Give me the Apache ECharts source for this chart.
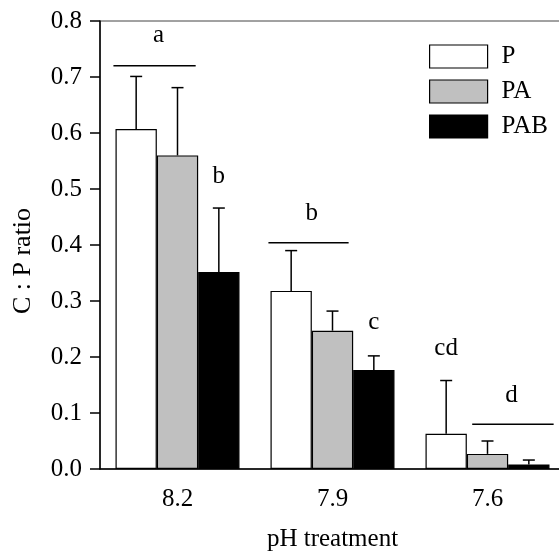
<!DOCTYPE html>
<html>
<head>
<meta charset="utf-8">
<script src="https://cdn.jsdelivr.net/npm/echarts@6/dist/echarts.min.js"></script>
<style>
html, body { margin: 0; padding: 0; background: #fff; }
#main { width: 559px; height: 554px; }
</style>
</head>
<body>
<div id="main"></div>
<script>
// pH treatments and group means / SD
var categories = ['8.2', '7.9', '7.6'];
var pMean   = [0.607, 0.318, 0.063];
var pSd     = [0.094, 0.072, 0.095];
var paMean  = [0.560, 0.247, 0.027];
var paSd    = [0.121, 0.035, 0.023];
var pabMean = [0.352, 0.177, 0.008];
var pabSd   = [0.114, 0.025, 0.008];

// significance letters: category, bar slot, y value, text
var letterCat  = [0, 0, 1, 1, 2, 2];
var letterSlot = [-0.46, 1, -0.5, 1, -1, 0.58];
var letterY    = [0.775, 0.523, 0.457, 0.261, 0.216, 0.132];
var letterText = ['a', 'b', 'b', 'c', 'cd', 'd'];
// bracket lines: category, from slot, to slot, y value
var lineCat  = [0, 1, 2];
var lineFrom = [-1.55, -1.55, -0.37];
var lineTo   = [0.44, 0.39, 1.6];
var lineY    = [0.72, 0.404, 0.08];

var font = 'Liberation Serif';
var myChart = echarts.init(document.getElementById('main'));

function barW(api) {
    return api.size([1, 0])[0] * 0.8 / 3;
}

function errorSeries(name, slot, means, sds) {
    return {
        name: name + ' err',
        type: 'custom',
        z: 5,
        silent: true,
        data: categories.map(function (c, i) { return [i, means[i], sds[i]]; }),
        renderItem: function (params, api) {
            var i = api.value(0);
            var base = api.coord([i, api.value(1)]);
            var top = api.coord([i, api.value(1) + api.value(2)]);
            var x = base[0] + slot * barW(api);
            var st = { stroke: '#000', lineWidth: 1.5 };
            return {
                type: 'group',
                children: [
                    { type: 'line', shape: { x1: x, y1: base[1], x2: x, y2: top[1] }, style: st },
                    { type: 'line', shape: { x1: x - 6, y1: top[1], x2: x + 6, y2: top[1] }, style: st }
                ]
            };
        }
    };
}

function barSeries(name, color, means) {
    return {
        name: name,
        type: 'bar',
        barGap: 0,
        barCategoryGap: '20%',
        itemStyle: { color: color, borderColor: '#000', borderWidth: 1.2 },
        data: means
    };
}

option = {
    animation: false,
    backgroundColor: '#fff',
    textStyle: { fontFamily: font },
    grid: {
        left: 100,
        right: -6,
        top: 21,
        bottom: 85,
        containLabel: false,
        outerBoundsMode: 'none',
        show: true,
        borderColor: '#444',
        borderWidth: 1
    },
    legend: {
        orient: 'vertical',
        left: 429,
        top: 44,
        padding: 0,
        icon: 'rect',
        itemWidth: 58,
        itemHeight: 23,
        itemGap: 10,
        data: ['P', 'PA', 'PAB'],
        itemStyle: { borderColor: '#000', borderWidth: 1.2 },
        textStyle: { fontFamily: font, fontSize: 25, color: '#000', padding: [0, 0, 0, 9] }
    },
    xAxis: {
        type: 'category',
        data: categories,
        name: 'pH treatment',
        nameLocation: 'middle',
        nameGap: 58,
        nameTextStyle: { fontFamily: font, fontSize: 25, color: '#000' },
        axisLine: { lineStyle: { color: '#000', width: 1.5 } },
        axisTick: { alignWithLabel: true, length: 10, lineStyle: { color: '#000', width: 1.5 } },
        axisLabel: { fontFamily: font, fontSize: 25, color: '#000', margin: 18 },
        splitLine: { show: false }
    },
    yAxis: {
        type: 'value',
        min: 0,
        max: 0.8,
        interval: 0.1,
        name: 'C : P ratio',
        nameLocation: 'middle',
        nameGap: 64,
        nameTextStyle: { fontFamily: font, fontSize: 26, color: '#000', padding: [0, 32, 0, 0] },
        axisLine: { show: true, lineStyle: { color: '#000', width: 1.5 } },
        axisTick: { show: true, length: 10, lineStyle: { color: '#000', width: 1.5 } },
        axisLabel: {
            fontFamily: font, fontSize: 25, color: '#000', margin: 18,
            formatter: function (v) { return v.toFixed(1); }
        },
        splitLine: { show: false }
    },
    series: [
        barSeries('P', '#ffffff', pMean),
        barSeries('PA', '#c0c0c0', paMean),
        barSeries('PAB', '#000000', pabMean),
        errorSeries('P', -1, pMean, pSd),
        errorSeries('PA', 0, paMean, paSd),
        errorSeries('PAB', 1, pabMean, pabSd),
        {
            name: 'letters',
            type: 'custom',
            silent: true,
            z: 6,
            data: letterCat.map(function (c, i) { return [c, letterY[i]]; }),
            renderItem: function (params, api) {
                var k = params.dataIndex;
                var p = api.coord([api.value(0), api.value(1)]);
                return {
                    type: 'text',
                    x: p[0] + letterSlot[k] * barW(api),
                    y: p[1],
                    style: {
                        text: letterText[k],
                        fontFamily: font,
                        fontSize: 25,
                        fill: '#000',
                        align: 'center',
                        verticalAlign: 'middle'
                    }
                };
            }
        },
        {
            name: 'brackets',
            type: 'custom',
            silent: true,
            z: 6,
            data: lineCat.map(function (c, i) { return [c, lineY[i]]; }),
            renderItem: function (params, api) {
                var k = params.dataIndex;
                var p = api.coord([api.value(0), api.value(1)]);
                var w = barW(api);
                return {
                    type: 'line',
                    shape: { x1: p[0] + lineFrom[k] * w, y1: p[1], x2: p[0] + lineTo[k] * w, y2: p[1] },
                    style: { stroke: '#000', lineWidth: 1.5 }
                };
            }
        }
    ]
};

myChart.setOption(option);
</script>
</body>
</html>
